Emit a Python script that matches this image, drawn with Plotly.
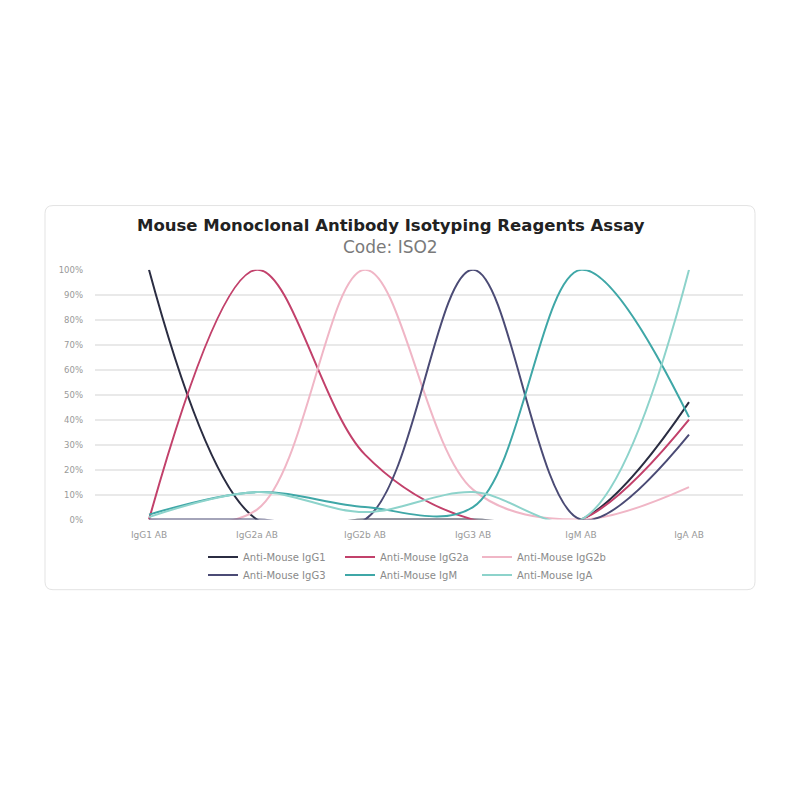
import plotly.graph_objects as go

# categories and series (percent)
categories = ["IgG1 AB", "IgG2a AB", "IgG2b AB", "IgG3 AB", "IgM AB", "IgA AB"]
series_names = ["Anti-Mouse IgG1", "Anti-Mouse IgG2a", "Anti-Mouse IgG2b",
                "Anti-Mouse IgG3", "Anti-Mouse IgM", "Anti-Mouse IgA"]
igg1 = [100, 0, 0, 0, 0, 47]
igg2a = [0, 100, 26, 0, 0, 40]
igg2b = [0, 4, 100, 12, 0, 13]
igg3 = [0, 0, 0, 100, 0, 34]
igm = [2, 11, 5, 5, 100, 41]
iga = [1, 11, 3, 11, 0, 100]
colors = ["#2b2d42", "#c2416b", "#f0b6c6", "#4b4b75", "#3fa7a7", "#8dd3cb"]

W = 800.0
OFF = 8  # page body margin
font = "DejaVu Sans"


def px(x):
    return (x - OFF) / W


def py(y):
    return 1 - (y - OFF) / W


fig = go.Figure()
for i, (name, vals) in enumerate(zip(series_names, [igg1, igg2a, igg2b, igg3, igm, iga])):
    fig.add_trace(go.Scatter(
        x=categories, y=vals, name=name, mode="lines",
        line=dict(color=colors[i], width=2, shape="spline", smoothing=1),
        legend="legend" if i < 3 else "legend2",
    ))

# card outline with rounded corners
x0, x1, y0, y1, r = px(45), px(755), py(592), py(203), 8 / W
card = (f"M{x0 + r},{y1} L{x1 - r},{y1} Q{x1},{y1} {x1},{y1 - r} "
        f"L{x1},{y0 + r} Q{x1},{y0} {x1 - r},{y0} L{x0 + r},{y0} "
        f"Q{x0},{y0} {x0},{y0 + r} L{x0},{y1 - r} Q{x0},{y1} {x0 + r},{y1} Z")

leg_common = dict(orientation="h", xanchor="left", yanchor="middle",
                  entrywidth=92, entrywidthmode="pixels",
                  font=dict(family=font, size=10, color="#8a8a8a"),
                  bgcolor="rgba(0,0,0,0)", itemclick=False)

fig.update_layout(
    width=800, height=800,
    margin=dict(l=0, r=0, t=0, b=0),
    paper_bgcolor="white", plot_bgcolor="white",
    font=dict(family=font),
    showlegend=True,
    legend=dict(x=px(203), y=py(559), **leg_common),
    legend2=dict(x=px(203), y=py(577), **leg_common),
    xaxis=dict(domain=[px(95), px(743)], range=[-0.5, 5.5], type="category",
               showgrid=False, showline=False, zeroline=False, ticks="",
               ticklabelstandoff=8,
               tickfont=dict(family=font, size=9, color="#999999")),
    yaxis=dict(domain=[py(521), py(268)], range=[0, 100], dtick=10,
               ticksuffix="%", showgrid=True, gridcolor="#e9e9e9", gridwidth=1.5,
               zeroline=False, showline=False, ticks="", ticklabelstandoff=11,
               tickfont=dict(family=font, size=8.5, color="#999999")),
    shapes=[dict(type="path", xref="paper", yref="paper", path=card,
                 line=dict(color="#e3e3e3", width=1), layer="below")],
    annotations=[
        dict(text="<b>Mouse Monoclonal Antibody Isotyping Reagents Assay</b>",
             x=px(391), y=py(223), xref="paper", yref="paper", showarrow=False,
             xanchor="center", yanchor="middle",
             font=dict(family=font, size=16.5, color="#222222")),
        dict(text="Code: ISO2", x=px(390), y=py(245), xref="paper", yref="paper",
             showarrow=False, xanchor="center", yanchor="middle",
             font=dict(family=font, size=17, color="#7a7a7a")),
    ],
)

fig.write_html("out.html")
